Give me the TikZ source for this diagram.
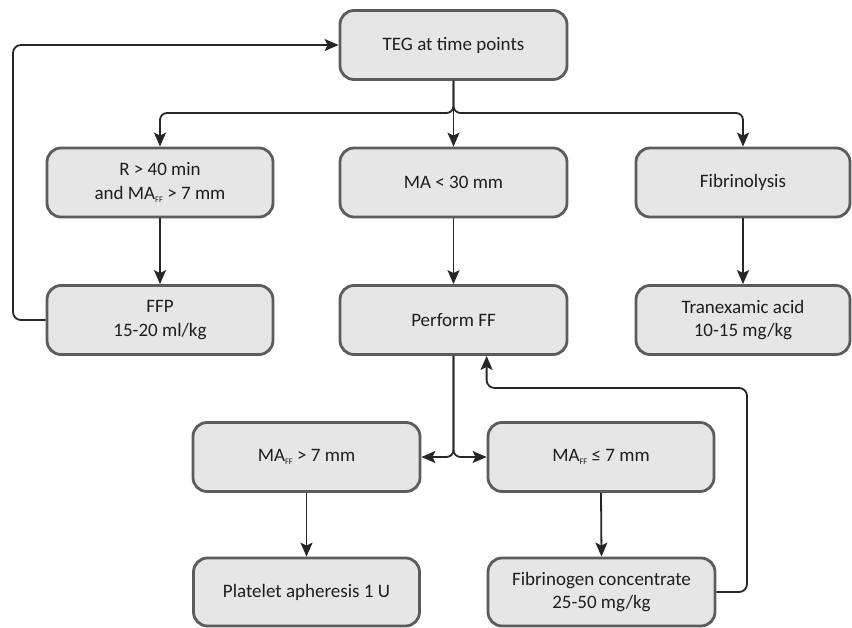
\documentclass[tikz,border=0pt]{standalone}
\usepackage{fontspec}
\setmainfont{Carlito}
\usetikzlibrary{arrows.meta}
\definecolor{boxfill}{HTML}{E6E6E6}
\definecolor{boxline}{HTML}{5C5C5C}
\definecolor{connline}{HTML}{262626}
\definecolor{txt}{HTML}{1E1E1E}
\newcommand{\subFF}{\raisebox{-3.5pt}{\fontsize{8.5}{8.5}\selectfont FF}}
\tikzset{
  flowbox/.style={draw=boxline, line width=2.8pt, fill=boxfill, rounded corners=14pt,
    text=txt, align=center, inner sep=0pt, minimum height=69pt,
    font=\fontsize{19}{23.5}\selectfont},
  conn/.style={draw=connline, line width=1.8pt,
    -{Stealth[length=14pt,width=12pt,inset=3pt]}},
}
\begin{document}
\begin{tikzpicture}[x=1pt,y=-1pt]
\useasboundingbox (0,0) rectangle (852,628);
% nodes
\node[flowbox, minimum width=227pt] (teg) at (453.5,45) {TEG at time points};
\node[flowbox, minimum width=226pt] (r) at (160,182.5) {R > 40 min\\and MA\subFF{} > 7 mm};
\node[flowbox, minimum width=227pt] (ma) at (453.5,182.5) {MA < 30 mm};
\node[flowbox, minimum width=214pt] (fib) at (743,182.5) {Fibrinolysis};
\node[flowbox, minimum width=226pt] (ffp) at (160,320) {FFP\\15-20 ml/kg};
\node[flowbox, minimum width=227pt] (pff) at (453.5,320) {Perform FF};
\node[flowbox, minimum width=214pt] (tra) at (743,320) {Tranexamic acid\\10-15 mg/kg};
\node[flowbox, minimum width=227pt] (m1) at (306.5,457) {MA\subFF{} > 7 mm};
\node[flowbox, minimum width=226pt] (m2) at (601,457) {MA\subFF{} ≤ 7 mm};
\node[flowbox, minimum width=226pt, minimum height=68pt] (plt) at (306.5,592) {Platelet apheresis 1 U};
\node[flowbox, minimum width=227pt, minimum height=68pt] (fbc) at (601.5,592) {Fibrinogen concentrate\\25-50 mg/kg};
% helper coordinates
\coordinate (j1) at (453.5,113);
\coordinate (j2) at (453.5,457);
\coordinate (lp) at (13,45);
\coordinate (lr) at (747,388);
% connectors
\draw[conn] (teg.south) -- (ma.north);
\draw[conn, rounded corners=7pt] (teg.south) -- (j1) -| (r.north);
\draw[conn, rounded corners=7pt] (teg.south) -- (j1) -| (fib.north);
\draw[conn] (r.south) -- (ffp.north);
\draw[conn] (ma.south) -- (pff.north);
\draw[conn] (fib.south) -- (tra.north);
\draw[conn, rounded corners=8pt] (ffp.west) -| (lp) -- (teg.west);
\draw[conn, rounded corners=7pt] (pff.south) -- (j2) -- (m1.east);
\draw[conn, rounded corners=7pt] (pff.south) -- (j2) -- (m2.west);
\draw[conn] (m1.south) -- (plt.north);
\draw[conn] (m2.south) -- (fbc.north);
\draw[conn, rounded corners=8pt] (fbc.east) -| (lr) -| (pff.south -| m2.west);
\end{tikzpicture}
\end{document}
